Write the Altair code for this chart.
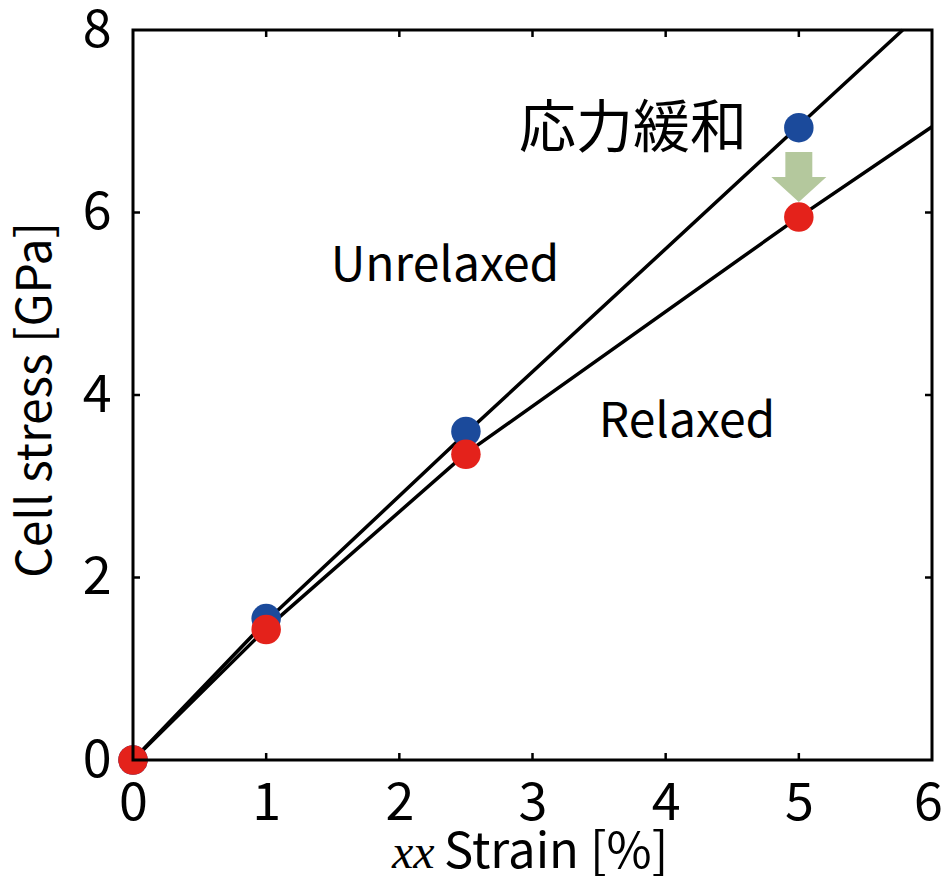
import altair as alt
import pandas as pd

FONT = "Noto Sans CJK JP"

# Measured points
strain_pts = [0, 1, 2.5, 5]
unrelaxed_pts = [0, 1.55, 3.60, 6.93]
relaxed_pts = [0, 1.43, 3.35, 5.95]

# Fitted curves
unrelaxed_line_x = [0, 1, 2.5, 5, 5.78]
unrelaxed_line_y = [0, 1.52, 3.58, 6.95, 8.0]
relaxed_line_x = [0, 1, 2.5, 5, 6]
relaxed_line_y = [0, 1.44, 3.36, 5.95, 6.94]

x_ticks = [0, 1, 2, 3, 4, 5, 6]
y_ticks = [0, 2, 4, 6, 8]
x_inner_ticks = [1, 2, 3, 4, 5]
y_inner_ticks = [2, 4, 6]

labels_text = ["応力緩和", "Unrelaxed", "Relaxed"]
labels_x = [3.755, 2.343, 4.16]
labels_y = [6.90, 5.40, 3.69]
labels_size = [57, 48, 48]

arrow_x = [5.0]
arrow_y = [6.39]

W, H = 799, 730

xs = alt.Scale(domain=[0, 6], nice=False, zero=False)
ys = alt.Scale(domain=[0, 8], nice=False, zero=False)

lines_df = pd.DataFrame(
    [{"x": x, "y": y, "s": "Unrelaxed", "o": i} for i, (x, y) in enumerate(zip(unrelaxed_line_x, unrelaxed_line_y))]
    + [{"x": x, "y": y, "s": "Relaxed", "o": i} for i, (x, y) in enumerate(zip(relaxed_line_x, relaxed_line_y))]
)
un_df = pd.DataFrame({"x": strain_pts, "y": unrelaxed_pts})
re_df = pd.DataFrame({"x": strain_pts, "y": relaxed_pts})
lab_df = pd.DataFrame({"t": labels_text, "x": labels_x, "y": labels_y, "fs": labels_size})
arrow_df = pd.DataFrame({"x": arrow_x, "y": arrow_y})

xaxis = alt.Axis(values=x_ticks, ticks=False, tickSize=0, domain=False, grid=False,
                 labelFont=FONT, labelFontSize=52, labelColor="black", labelPadding=18,
                 labelFlush=False, labelOverlap=False, title=None, format="d",
                 labelOffset=alt.ExprRef("datum.value == 6 ? -4 : 0"))
yaxis = alt.Axis(values=y_ticks, ticks=False, tickSize=0, domain=False, grid=False,
                 labelFont=FONT, labelFontSize=52, labelColor="black", labelPadding=22,
                 labelFlush=False, labelOverlap=False, labelBaseline="middle", title=None, format="d")

lines = alt.Chart(lines_df).mark_line(color="black", strokeWidth=3.5).encode(
    x=alt.X("x:Q", scale=xs, axis=xaxis),
    y=alt.Y("y:Q", scale=ys, axis=yaxis),
    detail="s:N",
    order="o:Q",
)

blue = alt.Chart(un_df).mark_circle(size=870, color="#1b4a9b", opacity=1).encode(
    x=alt.X("x:Q", scale=xs), y=alt.Y("y:Q", scale=ys))
red = alt.Chart(re_df).mark_circle(size=870, color="#e4221b", opacity=1).encode(
    x=alt.X("x:Q", scale=xs), y=alt.Y("y:Q", scale=ys))

arrow_path = "M-0.49,-0.91 L0.49,-0.91 L0.49,0 L1,0 L0,0.91 L-1,0 L-0.49,0 Z"
arrow = alt.Chart(arrow_df).mark_point(shape=arrow_path, size=3025, filled=True,
                                       color="#b4c89d", opacity=1, strokeWidth=0).encode(
    x=alt.X("x:Q", scale=xs), y=alt.Y("y:Q", scale=ys))

texts = alt.Chart(lab_df).mark_text(font=FONT, color="black", align="center", baseline="middle").encode(
    x=alt.X("x:Q", scale=xs), y=alt.Y("y:Q", scale=ys), text="t:N",
    size=alt.Size("fs:Q", scale=None, legend=None))

# inward ticks
xt_df = pd.DataFrame({"x": x_inner_ticks})
yt_df = pd.DataFrame({"y": y_inner_ticks})
tick_bot = alt.Chart(xt_df).mark_rule(color="black", strokeWidth=2.5).encode(
    x=alt.X("x:Q", scale=xs), y=alt.value(H), y2=alt.value(H - 7))
tick_top = alt.Chart(xt_df).mark_rule(color="black", strokeWidth=2.5).encode(
    x=alt.X("x:Q", scale=xs), y=alt.value(0), y2=alt.value(7))
tick_left = alt.Chart(yt_df).mark_rule(color="black", strokeWidth=2.5).encode(
    y=alt.Y("y:Q", scale=ys), x=alt.value(0), x2=alt.value(7))
tick_right = alt.Chart(yt_df).mark_rule(color="black", strokeWidth=2.5).encode(
    y=alt.Y("y:Q", scale=ys), x=alt.value(W), x2=alt.value(W - 7))

# frame
frame = alt.Chart(pd.DataFrame({"a": [0]})).mark_rect(
    fill=None, stroke="black", strokeWidth=3
).encode(x=alt.value(0), x2=alt.value(W), y=alt.value(0), y2=alt.value(H))

# axis titles
xt1 = alt.Chart(pd.DataFrame({"t": ["xx"]})).mark_text(
    font="Liberation Serif", fontStyle="italic", fontSize=48, align="left", baseline="alphabetic", color="black"
).encode(text="t:N", x=alt.value(259), y=alt.value(838))
xt2 = alt.Chart(pd.DataFrame({"t": ["Strain [%]"]})).mark_text(
    font=FONT, fontSize=49, align="left", baseline="alphabetic", color="black"
).encode(text="t:N", x=alt.value(311), y=alt.value(838))
yt = alt.Chart(pd.DataFrame({"t": ["Cell stress [GPa]"]})).mark_text(
    font=FONT, fontSize=48, align="center", baseline="middle", angle=270, color="black"
).encode(text="t:N", x=alt.value(-96), y=alt.value(370))

chart = alt.layer(
    lines, blue, red, arrow, texts, tick_bot, tick_top, tick_left, tick_right, frame, xt1, xt2, yt
).properties(
    width=W, height=H,
    background="white",
    autosize=alt.AutoSizeParams(type="none"),
    padding={"left": 133, "top": 30, "right": 10, "bottom": 116},
).configure_view(
    stroke=None
)

chart.save("out.html", embed_options={"renderer": "svg", "actions": False})
